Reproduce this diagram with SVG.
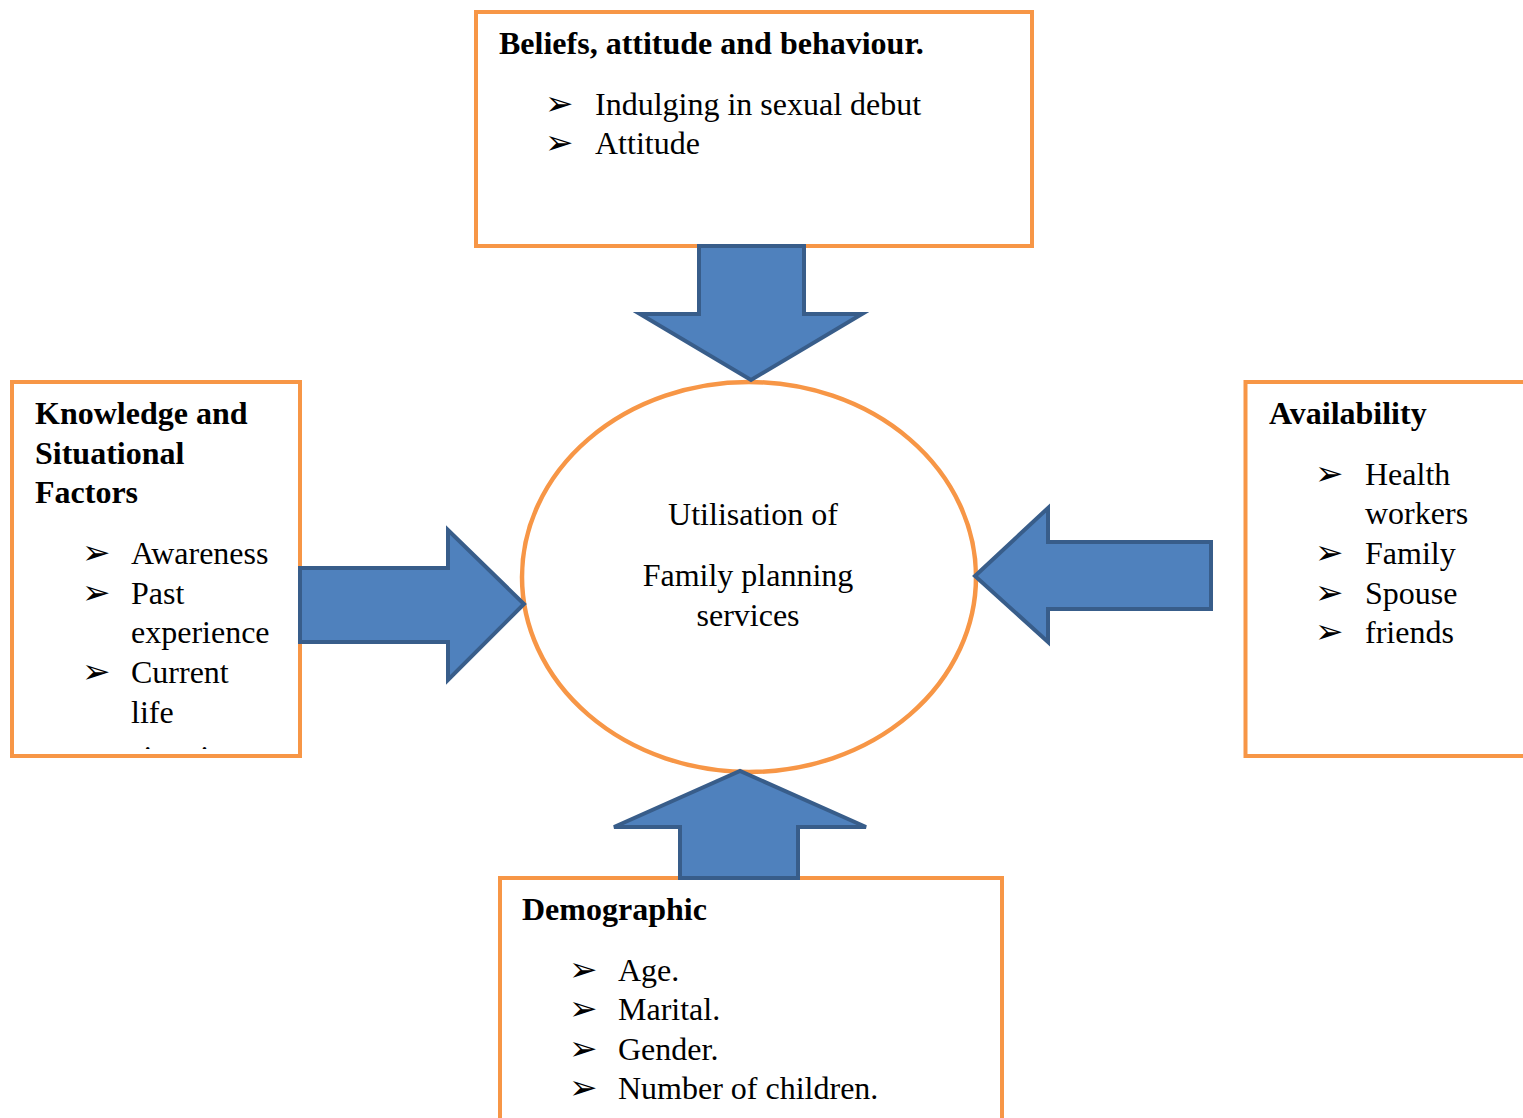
<svg xmlns="http://www.w3.org/2000/svg" width="1523" height="1118" viewBox="0 0 1523 1118">
<style>
.box{fill:#ffffff;stroke:#F79646;stroke-width:4}
.arrow{fill:#4F81BD;stroke:#385D8A;stroke-width:4;stroke-linejoin:miter}
.h{font-family:"Liberation Serif","Times New Roman",serif;font-size:32px;font-weight:bold;fill:#000}
.t{font-family:"Liberation Serif","Times New Roman",serif;font-size:32px;fill:#000}
.b{font-family:"DejaVu Sans",sans-serif;font-size:34px;fill:#000}
</style>
<defs>
<clipPath id="clipLeft"><rect x="14" y="384" width="284" height="365"/></clipPath>
</defs>
<rect width="1523" height="1118" fill="#ffffff"/>

<g id="node-beliefs">
<rect class="box" x="476" y="12" width="556" height="234"/>
<text class="h" x="499" y="54">Beliefs, attitude and behaviour.</text>
<text class="b" x="545" y="115">➢</text>
<text class="t" x="595" y="115">Indulging in sexual debut</text>
<text class="b" x="545" y="154">➢</text>
<text class="t" x="595" y="154">Attitude</text>
</g>

<g id="node-knowledge">
<rect class="box" x="12" y="382" width="288" height="374"/>
<text class="h" x="35" y="424">Knowledge and</text>
<text class="h" x="35" y="464">Situational</text>
<text class="h" x="35" y="503">Factors</text>
<text class="b" x="82" y="564">➢</text>
<text class="t" x="131" y="564">Awareness</text>
<text class="b" x="82" y="604">➢</text>
<text class="t" x="131" y="604">Past</text>
<text class="t" x="131" y="643">experience</text>
<text class="b" x="82" y="683">➢</text>
<text class="t" x="131" y="683">Current</text>
<text class="t" x="131" y="723">life</text>
<text class="t" x="131" y="768" clip-path="url(#clipLeft)">situation</text>
</g>

<g id="node-availability">
<rect class="box" x="1245.5" y="382" width="290" height="374"/>
<text class="h" x="1269" y="424">Availability</text>
<text class="b" x="1315" y="485">➢</text>
<text class="t" x="1365" y="485">Health</text>
<text class="t" x="1365" y="524">workers</text>
<text class="b" x="1315" y="564">➢</text>
<text class="t" x="1365" y="564">Family</text>
<text class="b" x="1315" y="604">➢</text>
<text class="t" x="1365" y="604">Spouse</text>
<text class="b" x="1315" y="643">➢</text>
<text class="t" x="1365" y="643">friends</text>
</g>

<g id="node-demographic">
<rect class="box" x="500" y="878" width="502" height="260"/>
<text class="h" x="522" y="920">Demographic</text>
<text class="b" x="569" y="981">➢</text>
<text class="t" x="618" y="981">Age.</text>
<text class="b" x="569" y="1020">➢</text>
<text class="t" x="618" y="1020">Marital.</text>
<text class="b" x="569" y="1060">➢</text>
<text class="t" x="618" y="1060">Gender.</text>
<text class="b" x="569" y="1099">➢</text>
<text class="t" x="618" y="1099">Number of children.</text>
</g>

<g id="node-utilisation">
<ellipse cx="749" cy="577" rx="227" ry="195" fill="#ffffff" stroke="#F79646" stroke-width="4.5"/>
<text class="t" x="753" y="525" text-anchor="middle">Utilisation of</text>
<text class="t" x="748" y="586" text-anchor="middle">Family planning</text>
<text class="t" x="748" y="626" text-anchor="middle">services</text>
</g>

<g id="connectors">
<polygon class="arrow" points="699,246 804,246 804,314 862,314 751,380 640,314 699,314"/>
<polygon class="arrow" points="300,568 448,568 448,530 524,604 448,680 448,642 300,642"/>
<polygon class="arrow" points="1211,542 1048,542 1048,508 975,576 1048,642 1048,609 1211,609"/>
<polygon class="arrow" points="680,878 680,827 614,827 740,771 866,827 798,827 798,878"/>
</g>
</svg>
